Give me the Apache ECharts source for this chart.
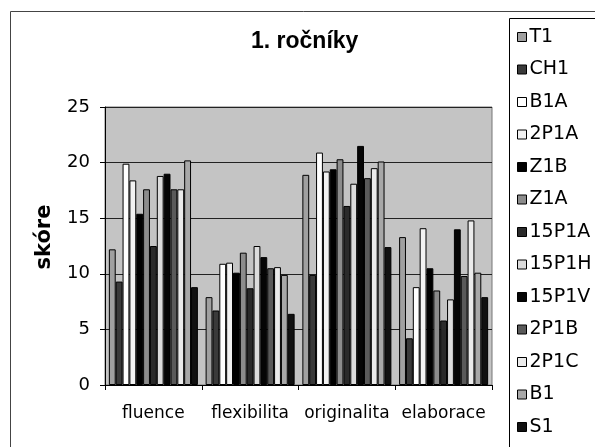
<!DOCTYPE html>
<html>
<head>
<meta charset="utf-8">
<script src="https://cdn.jsdelivr.net/npm/echarts@6/dist/echarts.min.js"></script>
<style>html,body{margin:0;padding:0;background:#fff;}#c{width:595px;height:447px;}</style>
</head>
<body>
<div id="c"></div>
<script>
var categories = ['fluence', 'flexibilita', 'originalita', 'elaborace'];
var seriesNames = ['T1','CH1','B1A','2P1A','Z1B','Z1A','15P1A','15P1H','15P1V','2P1B','2P1C','B1','S1'];
var T1 = [12.2, 7.9, 18.9, 13.3];
var CH1 = [9.3, 6.7, 9.9, 4.2];
var B1A = [19.9, 10.9, 20.9, 8.8];
var P2P1A = [18.4, 11.0, 19.2, 14.1];
var Z1B = [15.4, 10.1, 19.4, 10.5];
var Z1A = [17.6, 11.9, 20.3, 8.5];
var P15P1A = [12.5, 8.7, 16.1, 5.8];
var P15P1H = [18.8, 12.5, 18.1, 7.7];
var P15P1V = [19.0, 11.5, 21.5, 14.0];
var P2P1B = [17.6, 10.5, 18.6, 9.8];
var P2P1C = [17.6, 10.6, 19.5, 14.8];
var B1 = [20.2, 9.9, 20.1, 10.1];
var S1 = [8.8, 6.4, 12.4, 7.9];
var values = [T1, CH1, B1A, P2P1A, Z1B, Z1A, P15P1A, P15P1H, P15P1V, P2P1B, P2P1C, B1, S1];
var yTicks = [0, 5, 10, 15, 20, 25];

var colors = ['#a0a0a0','#3a3a3a','#ffffff','#f2f2f2','#000000','#8c8c8c','#2a2a2a','#dcdcdc','#050505','#5a5a5a','#ebebeb','#a8a8a8','#111111'];
var font = 'DejaVu Sans, sans-serif';
var fontA = 'Liberation Sans, Arial, sans-serif';

var chart = echarts.init(document.getElementById('c'), null, {renderer: 'canvas'});
var series = seriesNames.map(function (n, i) {
  return {
    name: n, type: 'bar', data: values[i],
    barGap: '0%', barCategoryGap: '8%',
    itemStyle: {color: colors[i], borderColor: '#000', borderWidth: 1},
    emphasis: {disabled: true}
  };
});
chart.setOption({
  animation: false,
  backgroundColor: '#fff',
  title: {
    text: '1. ročníky', left: 251, top: 30, padding: 0,
    textStyle: {fontFamily: fontA, fontSize: 23, fontWeight: 'bold', color: '#000'}
  },
  legend: {
    orient: 'vertical', left: 517, top: 26, padding: 0,
    itemWidth: 9, itemHeight: 9, itemGap: 10.5,
    icon: 'rect',
    itemStyle: {borderColor: '#000', borderWidth: 1},
    textStyle: {fontFamily: font, fontSize: 19, color: '#000', lineHeight: 22, padding: [0, 0, 0, -2]},
    data: seriesNames
  },
  grid: {left: 105, right: 103, top: 107, bottom: 62, show: true, backgroundColor: '#c4c4c4', borderColor: '#777', borderWidth: 1},
  xAxis: {
    type: 'category', data: categories,
    axisLine: {lineStyle: {color: '#000', width: 1}},
    axisTick: {show: true, interval: 0, length: 5, lineStyle: {color: '#000'}},
    axisLabel: {interval: 0, hideOverlap: false, fontFamily: font, fontSize: 17, color: '#000', margin: 20}
  },
  yAxis: {
    type: 'value', min: yTicks[0], max: yTicks[yTicks.length - 1], interval: 5,
    axisLine: {show: true, lineStyle: {color: '#000', width: 1}},
    axisTick: {show: true, length: 5, lineStyle: {color: '#000'}},
    axisLabel: {fontFamily: font, fontSize: 18, color: '#000', margin: 15},
    splitLine: {show: true, lineStyle: {color: '#222', width: 1}}
  },
  graphic: [
    {type: 'rect', shape: {x: 10.5, y: 11.5, width: 620, height: 460}, style: {fill: null, stroke: '#444', lineWidth: 1}, silent: true},
    {type: 'rect', shape: {x: 509.5, y: 18.5, width: 120, height: 460}, style: {fill: '#fff', stroke: '#000', lineWidth: 1}, silent: true, z: -1},
    {type: 'text', x: 45, y: 237, rotation: Math.PI / 2, silent: true,
     style: {text: 'skóre', fontFamily: font, fontSize: 21, fontWeight: 'bold', fill: '#000', align: 'center', verticalAlign: 'middle'}}
  ],
  series: series
});
</script>
</body>
</html>
